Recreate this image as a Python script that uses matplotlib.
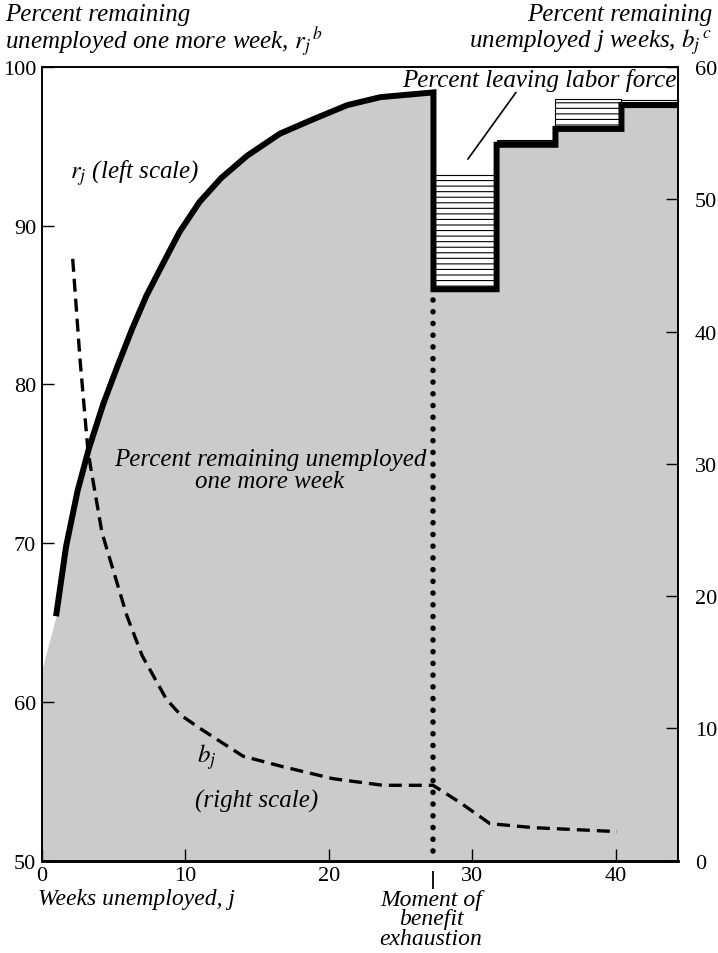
import matplotlib.pyplot as plt
import numpy as np

plt.rcParams['font.family'] = ['Liberation Serif', 'DejaVu Serif']
plt.rcParams['mathtext.fontset'] = 'stix'
plt.rcParams['hatch.linewidth'] = 0.8

# r_j: percent remaining unemployed one more week (left scale)
rj_weeks = [1.0, 1.7, 2.5, 3.3, 4.3, 5.3, 6.3, 7.3, 8.5, 9.6, 11.0, 12.5, 14.3,
            16.6, 18.9, 21.3, 23.6, 27.3]
rj_pct = [65.4, 69.8, 73.3, 76.0, 78.8, 81.2, 83.5, 85.6, 87.7, 89.6, 91.5, 93.0, 94.4,
          95.8, 96.7, 97.6, 98.1, 98.4]
fill_start = (0.0, 62.0)

# after benefit exhaustion: step levels and labor-force-leaving tops
step_edges = [27.3, 31.7, 35.8, 40.4, 44.34]
step_levels = [86.0, 95.1, 96.1, 97.6]
leave_tops = [93.2, 95.4, 98.0, 97.9]

# b_j: percent remaining unemployed j weeks (right scale)
bj_weeks = [2.16, 2.67, 3.23, 4.20, 5.94, 7.0, 8.69, 9.7, 11.03, 14.03, 16.82, 20.3,
            23.78, 27.27, 29.15, 31.24, 34.24, 40.09]
bj_pct = [45.5, 37.9, 30.9, 24.8, 18.5, 15.5, 12.2, 11.0, 10.0, 7.9, 7.1, 6.2,
          5.7, 5.7, 4.4, 2.8, 2.5, 2.2]

exhaust_week = 27.3

fig = plt.figure(figsize=(7.18, 9.54), dpi=100)
ax = fig.add_axes([41.7 / 718, 92.3 / 954, 636.3 / 718, 793.7 / 954])

# heavy r_j line incl. steps
line_x = list(rj_weeks)
line_y = list(rj_pct)
for i, lvl in enumerate(step_levels):
    line_x += [step_edges[i], step_edges[i + 1]]
    line_y += [lvl, lvl]

ax.fill_between([fill_start[0]] + line_x, [fill_start[1]] + line_y, 50,
                color='#cbcbcb', lw=0, zorder=1)

heights = np.array(leave_tops) - np.array(step_levels)
ax.bar(step_edges[:-1], heights, bottom=step_levels, width=np.diff(step_edges),
       align='edge', color='white', edgecolor='black', hatch='---', linewidth=0.8, zorder=2)

ax.plot(line_x, line_y, color='black', lw=4.3, solid_joinstyle='miter',
        solid_capstyle='butt', zorder=4)

ax.plot([exhaust_week, exhaust_week], [85.3, 50], color='black', lw=4,
        linestyle=(0, (0.01, 2.1)), dash_capstyle='round', zorder=3, clip_on=False)
ax.vlines(exhaust_week, -0.036, -0.013, transform=ax.get_xaxis_transform(),
          color='black', lw=1.3, clip_on=False)

ax.set_xlim(0, 44.34)
ax.set_ylim(50, 100)
ax.set_xticks([0, 10, 20, 30, 40])
ax.set_yticks([50, 60, 70, 80, 90, 100])
ax.tick_params(axis='both', direction='in', length=8.5, width=1, labelsize=16)
ax.tick_params(axis='x', pad=4)
ax.tick_params(axis='y', pad=4)
for s in ax.spines.values():
    s.set_linewidth(1.2)
ax.spines['bottom'].set_linewidth(1.8)

ax2 = ax.twinx()
ax2.set_ylim(0, 60)
ax2.set_yticks([0, 10, 20, 30, 40, 50, 60])
ax2.tick_params(axis='y', direction='in', length=8.5, width=1, labelsize=16, pad=12)
ax2.plot(bj_weeks, bj_pct, color='black', lw=2.4, linestyle=(0, (3.9, 2.1)), zorder=5)
for s in ax2.spines.values():
    s.set_linewidth(1.2)
ax2.spines['bottom'].set_linewidth(1.8)

it = dict(style='italic', fontsize=18, color='black')
fig.text(5 / 718, 1 - 15 / 954, 'Percent remaining', ha='left', va='center', **it)
fig.text(5 / 718, 1 - 42 / 954, r'unemployed one more week, $r_j{}^{\,b}$',
         ha='left', va='center', **it)
fig.text(712 / 718, 1 - 15 / 954, 'Percent remaining', ha='right', va='center', **it)
fig.text(712 / 718, 1 - 42 / 954, r'unemployed j weeks, $b_j{}^{\,c}$',
         ha='right', va='center', **it)

ax.text(34.65, 99.2, 'Percent leaving labor force', ha='center', va='center', zorder=6, **it)
ax.annotate('', xy=(29.7, 94.2), xytext=(33.05, 98.4),
            arrowprops=dict(arrowstyle='-', color='black', lw=1.2, shrinkA=0, shrinkB=0))
ax.text(10.96, 93.4, r'$r_j$ (left scale)', ha='right', va='center', zorder=6, **it)
ax.text(15.9, 74.6, 'Percent remaining unemployed\none more week', ha='center',
        va='center', linespacing=1.0, zorder=6, **it)
ax.text(11.5, 56.6, r'$b_j$', ha='center', va='center', zorder=6, **it)
ax.text(15.0, 53.8, '(right scale)', ha='center', va='center', zorder=6, **it)

bt = dict(style='italic', fontsize=17, color='black')
fig.text(38 / 718, 1 - 900 / 954, 'Weeks unemployed, j', ha='left', va='center', **bt)
fig.text(431 / 718, 1 - 920 / 954, 'Moment of\nbenefit\nexhaustion', ha='center',
         va='center', linespacing=0.88, **bt)

fig.savefig('out.png', dpi=100)
